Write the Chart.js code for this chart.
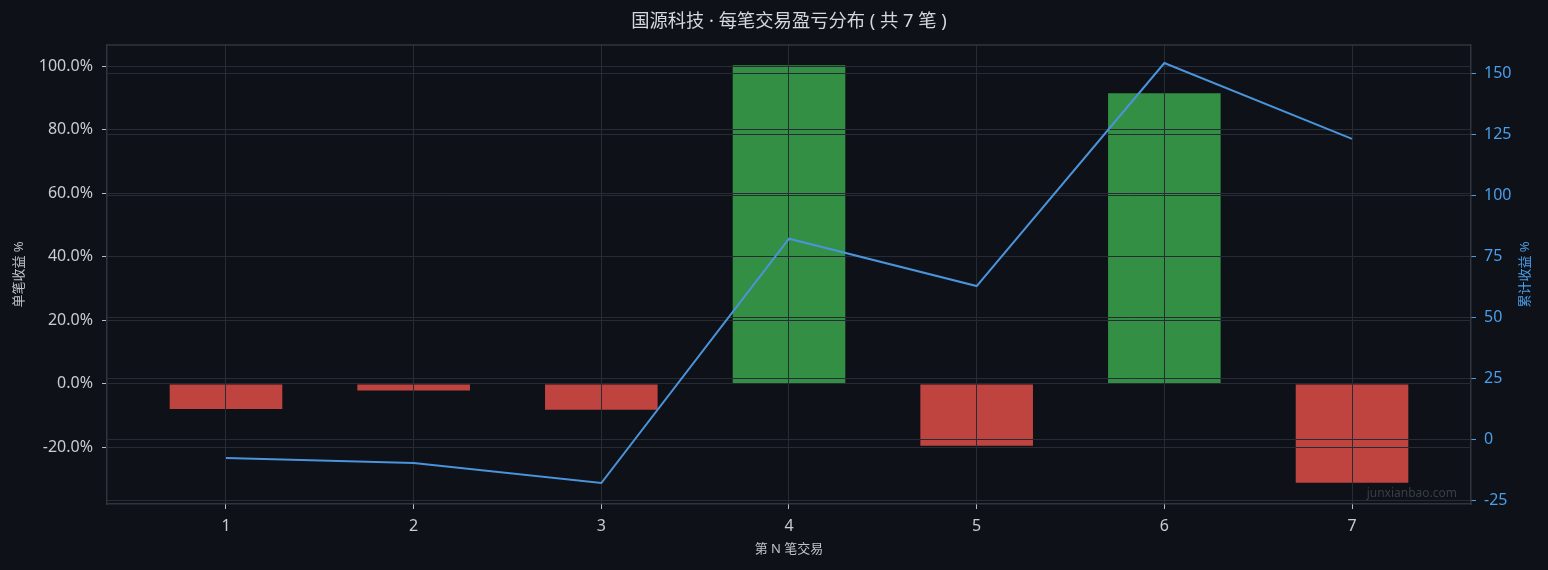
<!DOCTYPE html>
<html>
<head>
<meta charset="utf-8">
<script src="https://cdn.jsdelivr.net/npm/chart.js@4/dist/chart.umd.min.js"></script>
<style>
  html, body { margin: 0; padding: 0; background: #0e1117; }
  canvas { display: block; }
</style>
</head>
<body>
<canvas id="tradeChart" width="1548" height="570"></canvas>
<script>
// trade numbers and per-trade / cumulative returns (%)
var tradeNo = [1, 2, 3, 4, 5, 6, 7];
var tradeLabels = ['1', '2', '3', '4', '5', '6', '7'];
var tradePct = [-7.9, -2.1, -8.1, 100.3, -19.5, 91.5, -31.1];
var cumPct = [-7.6, -9.7, -17.9, 82.2, 62.8, 154.2, 123.1];
var leftTicks = [-20, 0, 20, 40, 60, 80, 100];
var rightTicks = [-25, 0, 25, 50, 75, 100, 125, 150];

var TITLE = '国源科技 · 每笔交易盈亏分布 ( 共 7 笔 )';
var FONT = "'Noto Sans', 'Noto Sans CJK SC', sans-serif";
var GRID = '#272b33';
var SPINE = '#30343c';

// grid sits over the bars but under the line
var gridOverBars = {
    id: 'gridOverBars',
    afterDatasetDraw: function(chart, args) {
        if (args.meta.type !== 'bar') return;
        ['x', 'y', 'y1'].forEach(function(id) {
            chart.scales[id].drawGrid(chart.chartArea);
        });
    }
};

var extras = {
    id: 'extras',
    afterDraw: function(chart) {
        var ctx = chart.ctx, a = chart.chartArea;
        ctx.save();
        // title centred over the plot area
        ctx.fillStyle = '#d4d7dc';
        ctx.font = "18.3px " + FONT;
        ctx.textAlign = 'center';
        ctx.textBaseline = 'middle';
        ctx.fillText(TITLE, (a.left + a.right) / 2, 22);
        // top spine
        ctx.strokeStyle = SPINE;
        ctx.lineWidth = 1.5;
        ctx.beginPath();
        ctx.moveTo(a.left, a.top);
        ctx.lineTo(a.right, a.top);
        ctx.stroke();
        // right axis title, reading bottom to top
        ctx.translate(1525, (a.top + a.bottom) / 2);
        ctx.rotate(-Math.PI / 2);
        ctx.fillStyle = '#4a9eea';
        ctx.font = "13px " + FONT;
        ctx.fillText('累计收益 %', 0, 0);
        ctx.restore();
        // watermark
        ctx.save();
        ctx.fillStyle = '#3a3e47';
        ctx.font = "12px " + FONT;
        ctx.textAlign = 'right';
        ctx.textBaseline = 'alphabetic';
        ctx.fillText('junxianbao.com', a.right - 14, a.bottom - 7);
        ctx.restore();
    }
};

var ctx = document.getElementById('tradeChart').getContext('2d');

var chart = new Chart(ctx, {
    type: 'bar',
    data: {
        datasets: [{
            type: 'line',
            data: tradeNo.map(function(n, i) { return {x: n, y: cumPct[i]}; }),
            yAxisID: 'y1',
            borderColor: '#4a94dc',
            borderWidth: 2,
            pointRadius: 0,
            tension: 0,
            order: 0
        }, {
            type: 'bar',
            data: tradeNo.map(function(n, i) { return {x: n, y: tradePct[i]}; }),
            yAxisID: 'y',
            backgroundColor: function(c) {
                return c.raw && c.raw.y >= 0 ? '#338f43' : '#bf4440';
            },
            categoryPercentage: 1,
            barPercentage: 0.6,
            order: 1
        }]
    },
    options: {
        responsive: false,
        animation: false,
        devicePixelRatio: 1,
        layout: { padding: { top: 45 } },
        plugins: {
            legend: { display: false },
            tooltip: { enabled: false },
            title: { display: false }
        },
        scales: {
            x: {
                type: 'linear',
                offset: false,
                min: 0.366,
                max: 7.634,
                afterBuildTicks: function(s) {
                    s.ticks = tradeNo.map(function(v) { return {value: v}; });
                },
                afterFit: function(s) { s.height = 66; },
                ticks: {
                    color: '#c9cdd3',
                    font: { family: FONT, size: 16 },
                    padding: 8,
                    maxRotation: 0,
                    callback: function(v) { return tradeLabels[tradeNo.indexOf(v)]; }
                },
                grid: { offset: false, color: GRID, tickColor: '#b8bcc4', tickLength: 5 },
                border: { color: SPINE, width: 1.5 },
                title: {
                    display: true,
                    text: '第 N 笔交易',
                    color: '#c0c4ca',
                    font: { family: FONT, size: 13 },
                    padding: { top: 0, bottom: 13 }
                }
            },
            y: {
                position: 'left',
                min: -37.8,
                max: 106.7,
                afterBuildTicks: function(s) {
                    s.ticks = leftTicks.map(function(v) { return {value: v}; });
                },
                afterFit: function(s) { s.width = 107; },
                ticks: {
                    color: '#c9cdd3',
                    font: { family: FONT, size: 16 },
                    padding: 9,
                    callback: function(v) { return v.toFixed(1) + '%'; }
                },
                grid: { color: GRID, tickColor: '#b8bcc4', tickLength: 5 },
                border: { color: SPINE, width: 1.5 },
                title: {
                    display: true,
                    text: '单笔收益 %',
                    color: '#c0c4ca',
                    font: { family: FONT, size: 13 },
                    padding: { top: 11, bottom: 0 }
                }
            },
            y1: {
                position: 'right',
                min: -26.5,
                max: 161.6,
                afterBuildTicks: function(s) {
                    s.ticks = rightTicks.map(function(v) { return {value: v}; });
                },
                afterFit: function(s) { s.width = 77; },
                ticks: {
                    color: '#4a9eea',
                    font: { family: FONT, size: 16 },
                    padding: 8
                },
                grid: { color: GRID, tickColor: '#4a9eea', tickLength: 5 },
                border: { color: SPINE, width: 1.5 },
                title: { display: false }
            }
        }
    },
    plugins: [gridOverBars, extras]
});
</script>
</body>
</html>
